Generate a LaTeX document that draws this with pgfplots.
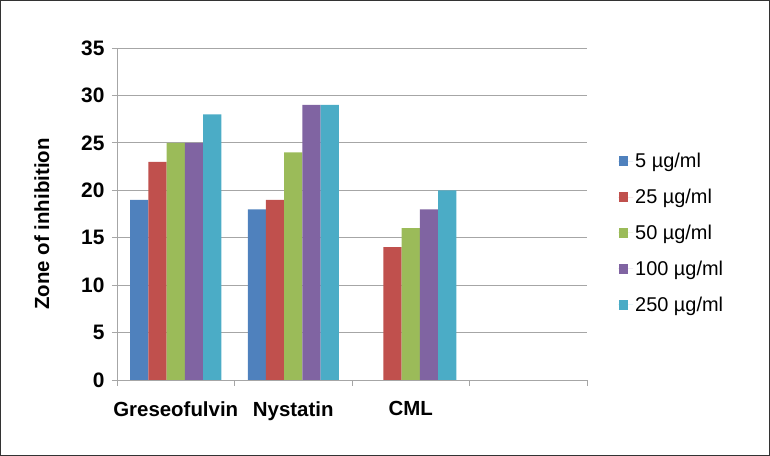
\documentclass[border=0pt]{standalone}
\usepackage{pgfplots}
\pgfplotsset{compat=1.18}
\usepackage{fontspec}
\setmainfont{Liberation Sans}
\definecolor{cBlue}{HTML}{4F81BD}
\definecolor{cRed}{HTML}{C0504D}
\definecolor{cGreen}{HTML}{9BBB59}
\definecolor{cPurple}{HTML}{8064A2}
\definecolor{cCyan}{HTML}{4BACC6}
\definecolor{gridgray}{HTML}{A6A6A6}
\begin{document}
\begin{tikzpicture}
\useasboundingbox (0,0) rectangle (770bp,456bp);
\draw[line width=1.2bp, black!80] (0.6bp,0.6bp) rectangle (769.4bp,455.4bp);
\begin{axis}[
  at={(117bp,76bp)}, anchor=south west,
  scale only axis, width=470bp, height=332bp,
  ybar=0pt, bar width=18.2bp,
  xmin=-0.5, xmax=3.5, ymin=0, ymax=35,
  ytick={0,5,...,35},
  xtick={0,1,2}, xticklabels={Greseofulvin,Nystatin,CML},
  minor xtick={-0.5,0.5,1.5,2.5,3.5},
  major x tick style={draw=none},
  minor x tick style={draw=gridgray, line width=0.8bp},
  minor tick length=6bp,
  major tick length=5bp,
  tick align=outside,
  axis x line*=bottom, axis y line*=left,
  axis line style={gridgray, line width=0.8bp, -},
  ytick style={draw=gridgray, line width=0.8bp},
  ymajorgrids, grid style={gridgray, line width=0.8bp},
  /pgf/number format/assume math mode=true,
  yticklabel style={font=\fontsize{21}{25}\selectfont\bfseries, xshift=-4bp},
  xticklabel style={font=\fontsize{20.5}{24}\selectfont\bfseries, yshift=-13bp},
  ylabel={Zone of inhibition},
  ylabel style={font=\fontsize{20.5}{24}\selectfont\bfseries, at={(axis description cs:-0.16,0.47)}, anchor=center},
  legend style={draw=none, fill=none, at={(1.066,0.443)}, anchor=west,
    font=\fontsize{20}{24}\selectfont, row sep=16bp, inner sep=0pt,
    /tikz/every even column/.append style={column sep=0bp}},
  legend cell align=left,
  legend image code/.code={\fill[#1] (1bp,-5bp) rectangle (10bp,5bp);\path (0bp,0bp) -- (15bp,0bp);},
]
\addplot[fill=cBlue, draw=none] coordinates {(0,19) (1,18)};
\addplot[fill=cRed, draw=none] coordinates {(0,23) (1,19) (2,14)};
\addplot[fill=cGreen, draw=none] coordinates {(0,25) (1,24) (2,16)};
\addplot[fill=cPurple, draw=none] coordinates {(0,25) (1,29) (2,18)};
\addplot[fill=cCyan, draw=none] coordinates {(0,28) (1,29) (2,20)};
\legend{5 µg/ml, 25 µg/ml, 50 µg/ml, 100 µg/ml, 250 µg/ml}
\end{axis}
\end{tikzpicture}
\end{document}
